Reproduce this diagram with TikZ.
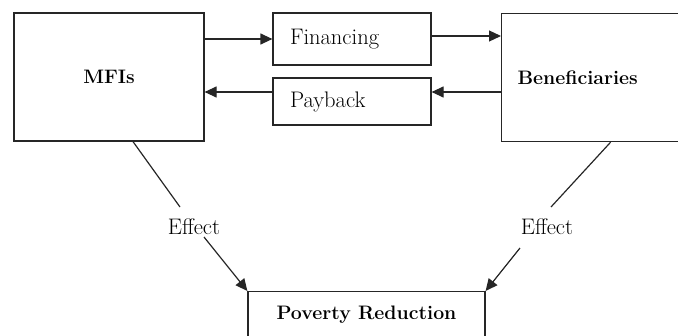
\documentclass[tikz,border=0pt]{standalone}
\usetikzlibrary{arrows.meta}
\begin{document}
\begin{tikzpicture}[x=1pt,y=-1pt,
  box/.style={draw=black!85,line width=1.2pt,inner sep=0pt},
  arr/.style={draw=black!85,line width=1.2pt,-{Triangle[length=12pt,width=11pt]}},
  ln/.style={draw=black!85,line width=1.2pt},
  bigb/.style={font=\fontsize{19.5}{23}\selectfont\bfseries},
  reg/.style={font=\fontsize{22.5}{26}\selectfont}]
\useasboundingbox (0,0) rectangle (678,335);
\clip (0,0) rectangle (678,335);
\node[box,bigb,minimum width=190pt,minimum height=128pt] (mfi) at (109,77) {MFIs};
\node[box,reg,minimum height=52pt,text width=124pt,align=left,inner xsep=17pt] (fin) at (352,39) {Financing};
\node[box,reg,minimum height=47pt,text width=124pt,align=left,inner xsep=17pt] (pay) at (352,101.5) {Payback};
\node[box,bigb,anchor=north west,minimum height=128pt,text width=158pt,align=left,inner xsep=16pt] (ben) at (501,13) {Beneficiaries};
\node[box,bigb,anchor=north,minimum width=237pt,text height=28pt,text depth=28pt] (pov) at (366.5,291) {Poverty Reduction};
\node[reg,inner sep=0pt] (e1) at (194,227) {Effect};
\node[reg,inner sep=0pt] (e2) at (547,227) {Effect};
\draw[arr] (fin.west -| mfi.east) -- (fin.west);
\draw[arr] ([yshift=3pt]fin.east) -- ([yshift=3pt]fin.east -| ben.west);
\draw[arr] ([yshift=9.5pt]pay.east -| ben.west) -- ([yshift=9.5pt]pay.east);
\draw[arr] ([yshift=9.5pt]pay.west) -- ([yshift=9.5pt]pay.west -| mfi.east);
\draw[ln] ([xshift=24pt]mfi.south) -- ([xshift=-14pt,yshift=20pt]e1.center);
\draw[arr] ([xshift=10pt,yshift=-10pt]e1.center) -- (pov.north west);
\draw[ln] ([xshift=14pt]ben.south) -- ([xshift=4pt,yshift=20pt]e2.center);
\draw[arr] ([xshift=-27pt,yshift=-21pt]e2.center) -- (pov.north east);
\end{tikzpicture}
\end{document}
